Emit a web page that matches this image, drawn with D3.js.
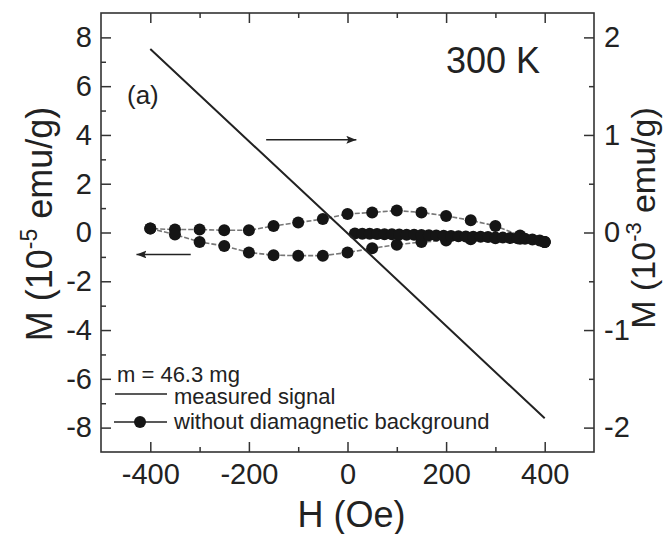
<!DOCTYPE html>
<html>
<head>
<meta charset="utf-8">
<script src="https://cdn.jsdelivr.net/npm/d3@7"></script>
<style>
  html, body { margin: 0; padding: 0; background: #fff; }
  svg { display: block; }
  text { font-family: "Liberation Sans", Arial, Helvetica, sans-serif; fill: #222; }
</style>
</head>
<body>
<script>
// Field values (Oe) and magnetisation (10^-5 emu/g) of the hysteresis loop
// after subtracting the diamagnetic background.
const upperH = [400, 350, 300, 250, 200, 150, 100, 50, 0, -50, -100, -150, -200, -250, -300, -350, -400];
const upperM = [-0.39, -0.12, 0.27, 0.50, 0.68, 0.82, 0.90, 0.82, 0.76, 0.55, 0.41, 0.27, 0.09, 0.09, 0.12, 0.12, 0.16];

const lowerH = [-400, -350, -300, -250, -200, -150, -100, -50, 0, 50, 100, 150, 200, 250, 300, 350, 400];
const lowerM = [0.16, -0.08, -0.39, -0.55, -0.82, -0.93, -0.95, -0.95, -0.82, -0.65, -0.50, -0.39, -0.33, -0.28, -0.24, -0.26, -0.39];

// Initial (virgin) branch, measured densely from zero field.
const virginH = [15, 30, 45, 60, 75, 90, 105, 120, 135, 150, 165, 180, 195, 210, 225, 240, 255, 270, 285, 300, 315, 330, 345, 360, 375, 390, 400];
const virginM = [-0.04, -0.05, -0.05, -0.06, -0.07, -0.07, -0.08, -0.09, -0.09, -0.10, -0.11, -0.12, -0.13, -0.14, -0.15, -0.16, -0.17, -0.17, -0.18, -0.20, -0.21, -0.23, -0.24, -0.26, -0.29, -0.33, -0.39];

// Raw measured signal (10^-3 emu/g on the right axis, drawn in left-axis units).
const measuredH = [-400, 0, 400];
const measuredM = [7.52, -0.03, -7.62];

// Axis ticks
const hMajor = [-400, -200, 0, 200, 400];
const hMinor = [-300, -100, 100, 300];
const mLeftMajor = [-8, -6, -4, -2, 0, 2, 4, 6, 8];
const mLeftMinor = [-7, -5, -3, -1, 1, 3, 5, 7];
const mRightMajor = [-2, -1, 0, 1, 2];
const mRightMinor = [-1.5, -0.5, 0.5, 1.5];

const W = 664, H = 534;
const x0 = 101, x1 = 594, y0 = 13, y1 = 452;

const svg = d3.select("body").append("svg").attr("width", W).attr("height", H);

const x = d3.scaleLinear().domain([-500, 500]).range([x0, x1]);
const y = d3.scaleLinear().domain([-9, 9]).range([y1, y0]);
const yR = d3.scaleLinear().domain([-2.25, 2.25]).range([y1, y0]);

const AX = "#333";
function styleAxis(g) {
  g.select(".domain").remove();
  g.selectAll(".tick line").attr("stroke", AX).attr("stroke-width", 1.5);
  g.selectAll(".tick text").attr("font-size", 29).attr("fill", "#222")
    .attr("font-family", "Liberation Sans, Arial, sans-serif");
}
const fmt = d => String(d);

// bottom
svg.append("g").attr("transform", `translate(0,${y1})`)
  .call(d3.axisBottom(x).tickValues(hMajor).tickSizeInner(-10).tickSizeOuter(0).tickPadding(11).tickFormat(fmt))
  .call(styleAxis);
svg.append("g").attr("transform", `translate(0,${y1})`)
  .call(d3.axisBottom(x).tickValues(hMinor).tickSizeInner(-5).tickSizeOuter(0).tickFormat(""))
  .call(styleAxis);
// top
svg.append("g").attr("transform", `translate(0,${y0})`)
  .call(d3.axisTop(x).tickValues(hMajor).tickSizeInner(-10).tickSizeOuter(0).tickFormat(""))
  .call(styleAxis);
svg.append("g").attr("transform", `translate(0,${y0})`)
  .call(d3.axisTop(x).tickValues(hMinor).tickSizeInner(-5).tickSizeOuter(0).tickFormat(""))
  .call(styleAxis);
// left
svg.append("g").attr("transform", `translate(${x0},0)`)
  .call(d3.axisLeft(y).tickValues(mLeftMajor).tickSizeInner(-10).tickSizeOuter(0).tickPadding(9).tickFormat(fmt))
  .call(styleAxis);
svg.append("g").attr("transform", `translate(${x0},0)`)
  .call(d3.axisLeft(y).tickValues(mLeftMinor).tickSizeInner(-5).tickSizeOuter(0).tickFormat(""))
  .call(styleAxis);
// right
svg.append("g").attr("transform", `translate(${x1},0)`)
  .call(d3.axisRight(yR).tickValues(mRightMajor).tickSizeInner(-10).tickSizeOuter(0).tickPadding(10).tickFormat(fmt))
  .call(styleAxis);
svg.append("g").attr("transform", `translate(${x1},0)`)
  .call(d3.axisRight(yR).tickValues(mRightMinor).tickSizeInner(-5).tickSizeOuter(0).tickFormat(""))
  .call(styleAxis);

// frame
svg.append("rect").attr("x", x0).attr("y", y0).attr("width", x1 - x0).attr("height", y1 - y0)
  .attr("fill", "none").attr("stroke", AX).attr("stroke-width", 1.6);

// loop branches
const line = d3.line().x(d => x(d[0])).y(d => y(d[1]));
const branches = [
  d3.zip(upperH, upperM),
  d3.zip(lowerH, lowerM),
  d3.zip(virginH, virginM)
];
svg.append("g").selectAll("path").data(branches).join("path")
  .attr("d", line).attr("fill", "none").attr("stroke", "#777")
  .attr("stroke-width", 1.6).attr("stroke-dasharray", "5,2");

const allPts = branches.flat();
svg.append("g").selectAll("circle").data(allPts).join("circle")
  .attr("cx", d => x(d[0])).attr("cy", d => y(d[1])).attr("r", 6).attr("fill", "#151515");

// measured signal
svg.append("path").datum(d3.zip(measuredH, measuredM)).attr("d", line)
  .attr("fill", "none").attr("stroke", "#222").attr("stroke-width", 2);

// arrows indicating which axis each curve belongs to
const defs = svg.append("defs");
defs.append("marker").attr("id", "head").attr("viewBox", "0 0 10 8")
  .attr("refX", 10).attr("refY", 4).attr("markerWidth", 10).attr("markerHeight", 8)
  .attr("markerUnits", "userSpaceOnUse").attr("orient", "auto")
  .append("path").attr("d", "M0,0 L10,4 L0,8 L2,4 Z").attr("fill", "#222");
const arrows = [
  { from: [-165, 3.8], to: [18, 3.8] },
  { from: [-318, -0.9], to: [-428, -0.9] }
];
svg.append("g").selectAll("line").data(arrows).join("line")
  .attr("x1", d => x(d.from[0])).attr("y1", d => y(d.from[1]))
  .attr("x2", d => x(d.to[0])).attr("y2", d => y(d.to[1]))
  .attr("stroke", "#222").attr("stroke-width", 1.6).attr("marker-end", "url(#head)");

// annotations
svg.append("text").attr("x", 446).attr("y", 73).attr("font-size", 36).text("300 K");
svg.append("text").attr("x", 127).attr("y", 104).attr("font-size", 26).text("(a)");

// axis titles
svg.append("text").attr("x", (x0 + x1) / 2 + 4).attr("y", 527).attr("text-anchor", "middle")
  .attr("font-size", 36).text("H (Oe)");

function yTitle(tx, ty, exp, size) {
  const t = svg.append("text").attr("transform", `translate(${tx},${ty}) rotate(-90)`)
    .attr("text-anchor", "middle").attr("font-size", size);
  t.append("tspan").text("M (10");
  t.append("tspan").attr("font-size", size * 0.64).attr("dy", -size * 0.42).text(exp);
  t.append("tspan").attr("dy", size * 0.42).text(" emu/g)");
}
yTitle(52, 224, "-5", 36);
yTitle(655, 218, "-3", 34);

// legend
const lg = svg.append("g");
lg.append("text").attr("x", 117).attr("y", 382).attr("font-size", 22).text("m = 46.3 mg");
lg.append("line").attr("x1", 115).attr("x2", 167).attr("y1", 394).attr("y2", 394)
  .attr("stroke", "#222").attr("stroke-width", 1.6);
lg.append("text").attr("x", 174).attr("y", 404).attr("font-size", 22).text("measured signal");
lg.append("line").attr("x1", 114).attr("x2", 167).attr("y1", 422).attr("y2", 422)
  .attr("stroke", "#222").attr("stroke-width", 1.6);
lg.append("circle").attr("cx", 140).attr("cy", 422).attr("r", 6).attr("fill", "#151515");
lg.append("text").attr("x", 174).attr("y", 429).attr("font-size", 22).text("without diamagnetic background");
</script>
</body>
</html>
